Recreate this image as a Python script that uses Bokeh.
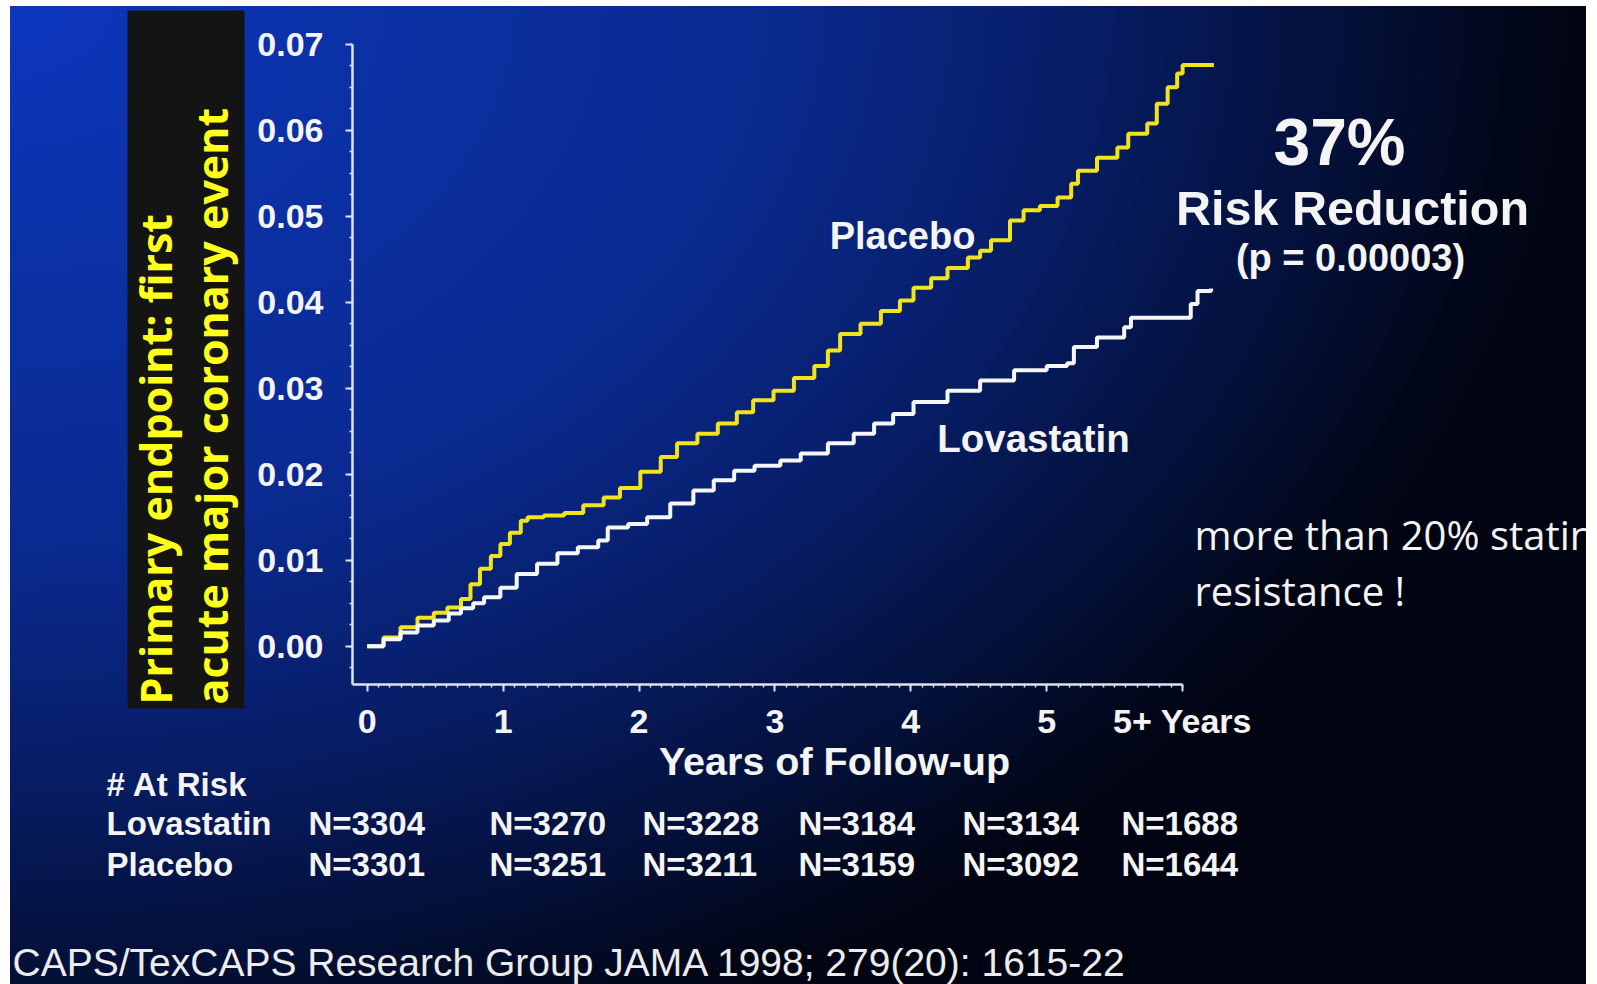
import math
from bokeh.plotting import figure
from bokeh.models import (Range1d, FixedTicker, NumeralTickFormatter, Label,
                          InlineStyleSheet, BoxAnnotation)
from bokeh.embed import file_html
from bokeh.resources import INLINE

# ---------------- data ----------------
placebo_t = [0, 0.12, 0.245, 0.37, 0.49, 0.59, 0.69, 0.76, 0.83, 0.91,
             0.98, 1.05, 1.13, 1.18, 1.30, 1.45, 1.59, 1.74, 1.86, 2.01,
             2.16, 2.28, 2.43, 2.58, 2.72, 2.84, 2.99, 3.14, 3.29, 3.39,
             3.48, 3.63, 3.78, 3.92, 4.02, 4.15, 4.27, 4.42, 4.51, 4.59,
             4.73, 4.83, 4.95, 5.08, 5.18, 5.23, 5.37, 5.52, 5.60, 5.74,
             5.81, 5.89, 5.96, 6.0, 6.23]
placebo_v = [0, 0.001, 0.0022, 0.0033, 0.0039, 0.0045, 0.0055, 0.0072, 0.0090, 0.0105,
             0.0119, 0.0132, 0.0146, 0.0150, 0.0152, 0.0155, 0.0164, 0.0173, 0.0184, 0.0203,
             0.0220, 0.0236, 0.0247, 0.0259, 0.0272, 0.0286, 0.0297, 0.0312, 0.0326, 0.0344,
             0.0363, 0.0375, 0.0390, 0.0402, 0.0417, 0.0428, 0.0440, 0.0452, 0.0460, 0.0472,
             0.0495, 0.0507, 0.0512, 0.0522, 0.0538, 0.0553, 0.0568, 0.0580, 0.0596, 0.0608,
             0.0631, 0.0650, 0.0666, 0.0676, 0.0676]
lova_t = [0, 0.12, 0.245, 0.37, 0.49, 0.6, 0.69, 0.78, 0.86, 0.98,
          1.1, 1.25, 1.4, 1.55, 1.7, 1.77, 1.92, 2.06, 2.23, 2.4,
          2.55, 2.7, 2.85, 3.04, 3.19, 3.39, 3.58, 3.73, 3.87, 4.02,
          4.27, 4.51, 4.76, 5.0, 5.15, 5.2, 5.37, 5.57, 5.62, 5.99,
          6.06, 6.11, 6.21]
lova_v = [0, 0.0008, 0.0016, 0.0024, 0.003, 0.0038, 0.0044, 0.0050, 0.0057, 0.0068,
          0.0084, 0.0096, 0.0108, 0.0115, 0.0123, 0.0138, 0.0142, 0.0150, 0.0166, 0.0181,
          0.0193, 0.0204, 0.0210, 0.0216, 0.0224, 0.0236, 0.0247, 0.0259, 0.0270, 0.0284,
          0.0297, 0.0309, 0.0321, 0.0326, 0.0329, 0.0348, 0.0359, 0.0371, 0.0382, 0.0382,
          0.0398, 0.0413, 0.0416]

x_ticks = [0, 1, 2, 3, 4, 5, 6]
x_tick_labels = ["0", "1", "2", "3", "4", "5", "5+ Years"]
y_ticks = [0.0, 0.01, 0.02, 0.03, 0.04, 0.05, 0.06, 0.07]

risk_groups = ["Lovastatin", "Placebo"]
risk_lovastatin = [3304, 3270, 3228, 3184, 3134, 1688]
risk_placebo = [3301, 3251, 3211, 3159, 3092, 1644]

y_title = "Primary endpoint: first\nacute major coronary event"
x_title = "Years of Follow-up"
citation = "CAPS/TexCAPS Research Group JAMA 1998; 279(20): 1615-22"

# ---------------- layout (page pixels) ----------------
W, H = 1586, 984
PX_YEAR = 135.9            # px per year
PX_UNIT = 8598.0           # px per unit of probability
X_ORIG, Y_ORIG = 366.7, 645.7   # page px of (0, 0)

def dx(px):  # page pixel -> data x
    return (px - X_ORIG) / PX_YEAR

def dy(py):  # page pixel -> data y
    return (Y_ORIG - py) / PX_UNIT

x_axis_at = dy(684)   # x-axis line position
y_axis_at = dx(352)   # y-axis line position

p = figure(width=W, height=H, output_backend="svg", toolbar_location=None,
           x_range=Range1d(dx(0), dx(W)), y_range=Range1d(dy(H), dy(0)),
           min_border=0, min_border_left=0, min_border_right=0,
           min_border_top=0, min_border_bottom=0,
           background_fill_alpha=0, border_fill_alpha=0, outline_line_color=None)
BG_CSS = """:host {
  background:
    linear-gradient(to right, #ffffff 0px, #ffffff 10px, rgba(255,255,255,0) 10px),
    linear-gradient(to bottom, #ffffff 0px, #ffffff 6px, rgba(255,255,255,0) 6px),
    radial-gradient(ellipse 100% 115% at 0% 0%, #0c37bf 0%, #0b31a6 22%, #0a2a90 48%,
                    #071d66 68%, #04113c 84%, #010616 97%, #000412 100%);
}"""
p.stylesheets = [InlineStyleSheet(css=BG_CSS)]
p.grid.visible = False

AXC = "#dde2f0"
TXT = "#f4f4f4"
for ax in (p.xaxis[0], p.yaxis[0]):
    ax.axis_line_color = AXC
    ax.axis_line_width = 2.5
    ax.major_tick_line_color = AXC
    ax.major_tick_line_width = 2
    ax.major_tick_out = 7
    ax.major_tick_in = 0
    ax.minor_tick_line_color = AXC
    ax.minor_tick_line_width = 1.5
    ax.minor_tick_out = 3
    ax.minor_tick_in = 0
    ax.major_label_text_color = TXT
    ax.major_label_text_font = "Liberation Sans"
    ax.major_label_text_font_style = "bold"
    ax.major_label_text_font_size = "34px"

p.xaxis.fixed_location = x_axis_at
p.xaxis.ticker = FixedTicker(ticks=x_ticks, minor_ticks=[i / 12 for i in range(0, 73)])
p.xaxis.major_label_overrides = dict(zip(x_ticks, x_tick_labels))
p.xaxis.bounds = (y_axis_at, 6.0)
p.xaxis.major_label_standoff = 10

p.yaxis.fixed_location = y_axis_at
p.yaxis.ticker = FixedTicker(ticks=y_ticks, minor_ticks=[k * 0.0025 for k in range(-1, 29)])
p.yaxis.formatter = NumeralTickFormatter(format="0.00")
p.yaxis.bounds = (x_axis_at, 0.07)
p.yaxis.major_label_standoff = 22

# ---------------- curves ----------------
p.step(placebo_t, placebo_v, mode="after", line_color="#f2e41c", line_width=4)
p.step(lova_t, lova_v, mode="after", line_color="#f6f6f6", line_width=4)

def lab(text, px, py, size, align="left", style="bold", font="Liberation Sans", color=TXT, **kw):
    p.add_layout(Label(x=dx(px), y=dy(py), text=text, text_font=font,
                       text_font_size=f"{size}px", text_font_style=style,
                       text_color=color, text_align=align, text_baseline="middle", **kw))

lab("Placebo", 902, 235, 38, align="center")
lab("Lovastatin", 1033, 438, 38.5, align="center")
lab(x_title, 834, 760, 39.5, align="center")

lab("37%", 1339, 141, 66, align="center")
lab("Risk Reduction", 1352, 207, 48.5, align="center")
lab("(p = 0.00003)", 1350, 257, 38, align="center")

lab("more than 20% statin", 1194, 534, 40, style="normal", font="Open Sans")
lab("resistance !", 1194, 590, 40, style="normal", font="Open Sans")

# at-risk table
lab("# At Risk", 106, 784, 33)
row_y = [823, 864]
col_x = [308, 489, 642, 798, 962, 1121]
for name, counts, ry in zip(risk_groups, [risk_lovastatin, risk_placebo], row_y):
    lab(name, 106, ry, 33)
    for n, cx in zip(counts, col_x):
        lab(f"N={n}", cx, ry, 33)

lab(citation, 12, 962, 39, style="normal", color="#ececec")

# y-axis title in black box
p.add_layout(BoxAnnotation(left=dx(127), right=dx(244), top=dy(10), bottom=dy(708),
                           fill_color="#141414", fill_alpha=1, line_color=None))
p.add_layout(Label(x=dx(183), y=dy(704), text=y_title, angle=math.pi / 2,
                   text_font="Open Sans", text_font_size="43px", text_font_style="bold",
                   text_color="#ffff1a", text_align="left", text_baseline="middle",
                   text_line_height=0.96))

open("out.html", "w").write(file_html(p, INLINE))
